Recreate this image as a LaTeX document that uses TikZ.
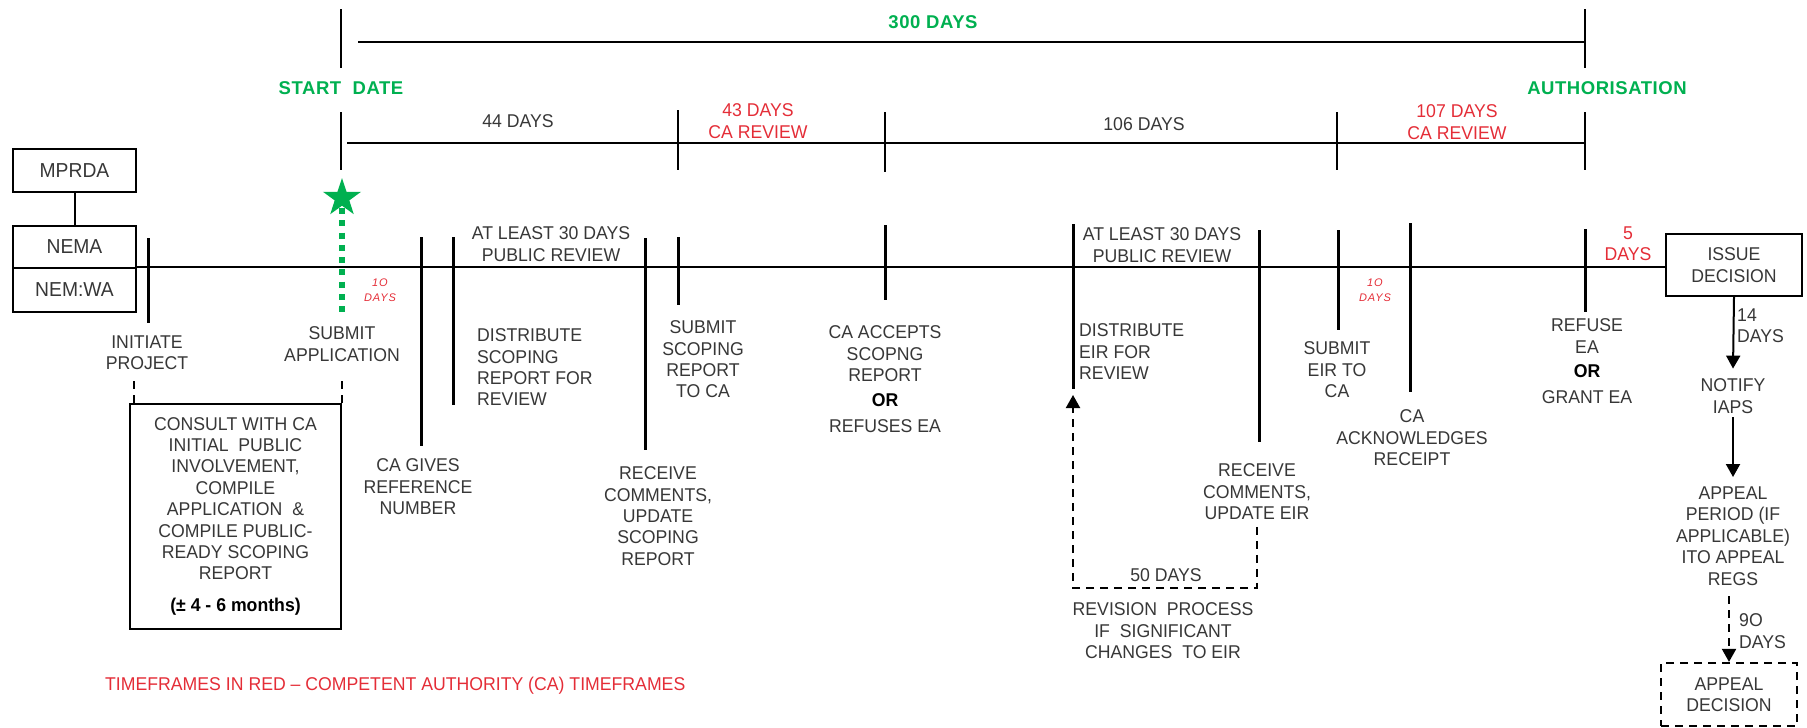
\documentclass[tikz,border=0pt]{standalone}
\usepackage{fontspec}
\setmainfont[FakeStretch=0.955]{Liberation Sans}
\newfontfamily\grnfont[LetterSpace=3]{Liberation Sans}
\newfontfamily\smallredfont[LetterSpace=8]{Liberation Sans}
\usetikzlibrary{arrows.meta,shapes.geometric}
\definecolor{grn}{RGB}{0,176,80}
\definecolor{rd}{RGB}{228,45,55}
\definecolor{txt}{RGB}{55,55,55}
\tikzset{
  lbl/.style={font=\fontsize{18.5}{21.4}\selectfont, text=txt, inner sep=0pt, align=center, anchor=north},
  lbll/.style={lbl, align=left, anchor=north west},
  redlbl/.style={lbl, text=rd},
  grnlbl/.style={font=\grnfont\bfseries\fontsize{18.5}{21.4}\selectfont, text=grn, inner sep=0pt, anchor=center},
  smallred/.style={font=\smallredfont\itshape\fontsize{11}{15}\selectfont, text=rd, inner sep=0pt, align=center, anchor=center},
  box/.style={draw, line width=2.2pt, text=txt, inner sep=0pt, align=center, font=\fontsize{18.5}{21.4}\selectfont},
  bigbox/.style={box, font=\fontsize{20.2}{22}\selectfont},
  tickline/.style={line width=3pt},
  mainline/.style={line width=2.7pt},
  thinline/.style={line width=2pt},
  dsh/.style={line width=2pt, dash pattern=on 8pt off 6pt},
  arr/.style={line width=2pt, -{Triangle[width=14pt,length=13pt]}},
}
\begin{document}
\begin{tikzpicture}[x=1pt,y=-1pt]
\useasboundingbox (0,0) rectangle (1807,728);

% ---- left boxes
\node[bigbox, minimum width=123pt, minimum height=43pt] (mprda) at (74.5,170.5) {MPRDA};
\node[bigbox, minimum width=123pt, minimum height=42pt] (nema) at (74.5,247) {NEMA};
\node[bigbox, minimum width=123pt, minimum height=44pt] (nemwa) at (74.5,290) {NEM:WA};
\draw[thinline] (mprda.south) -- (nema.north);

% ---- issue decision box
\node[box, minimum width=136pt, minimum height=62pt] (issue) at (1734,265) {ISSUE\\DECISION};

% ---- main timeline
\draw[mainline] (nemwa.north east) -- (issue.west |- nemwa.north east);

% ---- ticks on main line
\draw[tickline] (148,238) -- (148,323);
\draw[tickline] (421,237) -- (421,446);
\draw[tickline] (453,237) -- (453,405);
\draw[tickline] (645,238) -- (645,450);
\draw[tickline] (678,237) -- (678,305);
\draw[tickline] (885,225) -- (885,300);
\draw[tickline] (1073,224) -- (1073,389);
\coordinate (teir) at (1073,389);
\draw[tickline] (1259,230) -- (1259,442);
\draw[tickline] (1338,230) -- (1338,330);
\draw[tickline] (1410,223) -- (1410,392);
\draw[tickline] (1585,229) -- (1585,312);

% ---- 300 days bracket
\draw[thinline] (341,9) -- (341,68);
\draw[thinline] (341,112) -- (341,170);
\draw[thinline] (358,42) -- (1585,42);
\draw[thinline] (1585,9) -- (1585,68);
\node[grnlbl] (d300) at (933,22) {300 DAYS};
\node[grnlbl] (start) at (341,88) {START\ \ DATE};
\node[grnlbl] (auth) at (1607,88) {AUTHORISATION};

% ---- second level bracket
\draw[thinline] (347,143) -- (1585,143);
\draw[thinline] (678,110) -- (678,170);
\draw[thinline] (885,112) -- (885,172);
\draw[thinline] (1337,112) -- (1337,170);
\draw[thinline] (1585,112) -- (1585,170);
\node[lbl] (d44) at (518,114.6) {44 DAYS};
\node[redlbl] (d43) at (758,103.6) {43 DAYS\\CA REVIEW};
\node[lbl] (d106) at (1144,117.6) {106 DAYS};
\node[redlbl] (d107) at (1457,104.6) {107 DAYS\\CA REVIEW};

% ---- star and green dotted line
\node[star, star points=5, star point ratio=2.6, fill=grn, minimum size=40pt, inner sep=0pt] (star) at (342,198) {};
\draw[grn, line width=5.5pt, dash pattern=on 6pt off 6.3pt] (star.south) ++(0,-2pt) coordinate (gs) -- (gs |- 0,312);

% ---- labels on main timeline
\node[smallred] (t10a) at (380,290.5) {1O\\DAYS};
\node[smallred] (t10b) at (1375,290.5) {1O\\DAYS};
\node[lbl] (initiate) at (147,335.6) {INITIATE\\PROJECT};
\node[lbl] (subapp) at (342,326.6) {SUBMIT\\APPLICATION};
\node[lbl] (cagives) at (418,458.6) {CA GIVES\\REFERENCE\\NUMBER};
\node[lbll] (distsc) at (477,328.6) {DISTRIBUTE\\SCOPING\\REPORT FOR\\REVIEW};
\node[lbl] (atl1) at (551,226.6) {AT LEAST 30 DAYS\\PUBLIC REVIEW};
\node[lbl] (recsc) at (658,466.6) {RECEIVE\\COMMENTS,\\UPDATE\\SCOPING\\REPORT};
\node[lbl] (subsc) at (703,320.6) {SUBMIT\\SCOPING\\REPORT\\TO CA};
\node[lbl] (caacc) at (885,325.6) {CA ACCEPTS\\SCOPNG\\REPORT\\[4pt]{\bfseries\color{black}OR}\\[4pt]REFUSES EA};
\node[lbl] (atl2) at (1162,227.6) {AT LEAST 30 DAYS\\PUBLIC REVIEW};
\node[lbll] (disteir) at (1079,323.6) {DISTRIBUTE\\EIR FOR\\REVIEW};
\node[lbl] (receir) at (1257,463.6) {RECEIVE\\COMMENTS,\\UPDATE EIR};
\node[lbl] (subeir) at (1337,341.6) {SUBMIT\\EIR TO\\CA};
\node[lbl] (caack) at (1412,409.6) {CA\\ACKNOWLEDGES\\RECEIPT};
\node[redlbl] (d5) at (1628,226.6) {5\\DAYS};
\node[lbl] (refuse) at (1587,318.6) {REFUSE\\EA\\[3pt]{\bfseries\color{black}OR}\\[5pt]GRANT EA};

% ---- consult box
\node[box, minimum width=211pt, minimum height=225pt] (consult) at (235.5,516.5)
  {CONSULT WITH CA\\INITIAL\ \ PUBLIC\\INVOLVEMENT,\\COMPILE\\APPLICATION\ \ \&\\COMPILE PUBLIC-\\READY SCOPING\\REPORT\\[10.5pt]{\bfseries\color{black}(± 4 - 6 months)}};
\draw[dsh] ([xshift=5pt]consult.north west) -- ++(0,-26);
\draw[dsh] (consult.north east) -- ++(0,-26);

% ---- revision loop
\draw[dsh] ([yshift=-7pt]receir.south) coordinate (ra) -- (ra |- 0,588) -- (teir |- 0,588) -- ([yshift=-20pt]teir);
\draw[line width=2pt, -{Triangle[width=14pt,length=13pt]}] ([yshift=-20pt]teir) -- ([yshift=-6pt]teir);
\node[lbl] (d50) at (1166,568.6) {50 DAYS};
\node[lbl] (revision) at (1163,602.6) {REVISION\ \ PROCESS\\IF\ \ SIGNIFICANT\\CHANGES\ \ TO EIR};

% ---- right column
\node[lbl] (notify) at (1733,378.6) {NOTIFY\\IAPS};
\node[lbl] (appeal) at (1733,486.6) {APPEAL\\PERIOD (IF\\APPLICABLE)\\ITO APPEAL\\REGS};
\node[box, dashed, dash pattern=on 8pt off 6pt, minimum width=136pt, minimum height=63pt] (appdec) at (1729,694.5) {APPEAL\\DECISION};
\draw[arr] (issue.south) -- ([yshift=10pt]notify.north);
\draw[arr] ([yshift=-3.6pt]notify.south) -- ([yshift=9.6pt]appeal.north);
\draw[arr, dash pattern=on 8pt off 6pt] ([yshift=-10.6pt]appeal.south -| appdec.north) -- (appdec.north);
\node[lbll] (d14) at (1737,308.6) {14\\DAYS};
\node[lbll] (d90) at (1739,613.6) {9O\\DAYS};

% ---- footer
\node[redlbl, anchor=north west] (foot) at (105,676.6) {TIMEFRAMES IN RED – COMPETENT AUTHORITY (CA) TIMEFRAMES};
\end{tikzpicture}
\end{document}
